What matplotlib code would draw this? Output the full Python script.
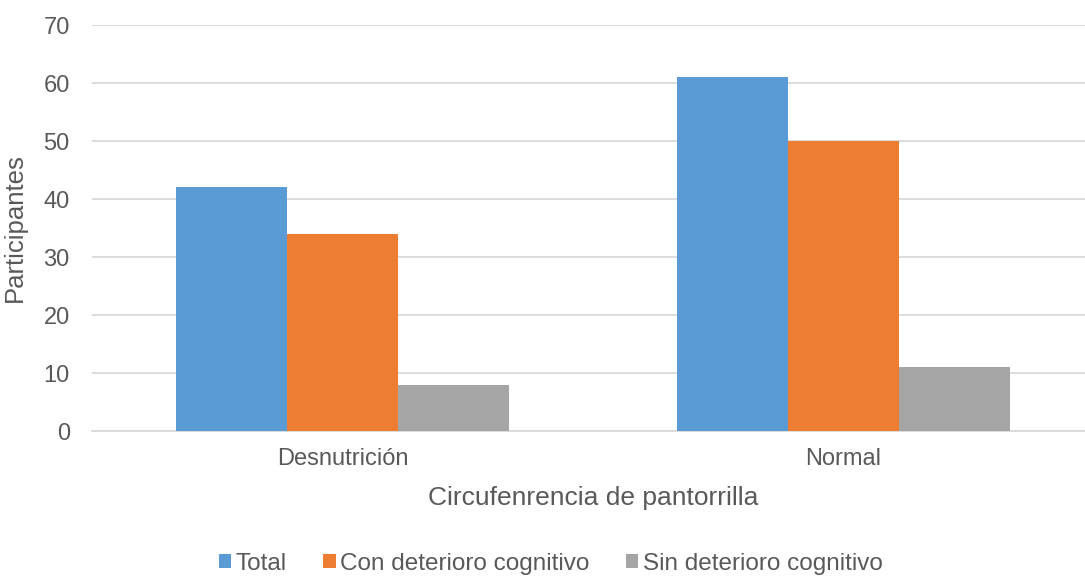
import matplotlib.pyplot as plt
import numpy as np

categories = ["Desnutrición", "Normal"]
series_names = ["Total", "Con deterioro cognitivo", "Sin deterioro cognitivo"]
total = [42, 61]
con_deterioro = [34, 50]
sin_deterioro = [8, 11]
colors = ["#5B9BD5", "#ED7D31", "#A5A5A5"]

plt.rcParams['font.family'] = ['Liberation Sans', 'DejaVu Sans']
text_color = "#595959"

fig = plt.figure(figsize=(10.85, 5.77), dpi=100)
# axes run slightly past the right edge so the categories land where they should
ax = fig.add_axes([92 / 1085, 1 - 431 / 577, (1094 - 92) / 1085, (431 - 25) / 577])

x = np.arange(len(categories))
width = 0.2216
for i, (vals, name) in enumerate(zip([total, con_deterioro, sin_deterioro], series_names)):
    ax.bar(x + (i - 1) * width, vals, width, color=colors[i], label=name, zorder=3)

ax.set_xlim(-0.5, 1.5)
ax.set_ylim(0, 70)
ax.set_yticks(range(0, 71, 10))
ax.set_xticks(x)
ax.set_xticklabels(categories)
ax.grid(axis='y', color="#D9D9D9", linewidth=1.3, zorder=0)
for s in ["top", "right", "left"]:
    ax.spines[s].set_visible(False)
ax.spines["bottom"].set_color("#D9D9D9")
ax.spines["bottom"].set_linewidth(1.3)
ax.tick_params(axis='both', length=0, labelsize=17, colors=text_color)
ax.tick_params(axis='x', pad=12)
ax.tick_params(axis='y', pad=16)

ax.set_xlabel("Circufenrencia de pantorrilla", fontsize=19, color=text_color, labelpad=12)
ax.set_ylabel("Participantes", fontsize=18.5, color=text_color)
ax.yaxis.set_label_coords(-(92 - 27) / (1094 - 92), 0.5)

leg = fig.legend(loc='center', bbox_to_anchor=(551 / 1085, 1 - 564 / 577), ncol=3,
                 frameon=False, fontsize=17.5, handlelength=0.5, handleheight=0.5,
                 handletextpad=0.2, columnspacing=1.5)
for t in leg.get_texts():
    t.set_color(text_color)

fig.savefig("out.png", dpi=100)
